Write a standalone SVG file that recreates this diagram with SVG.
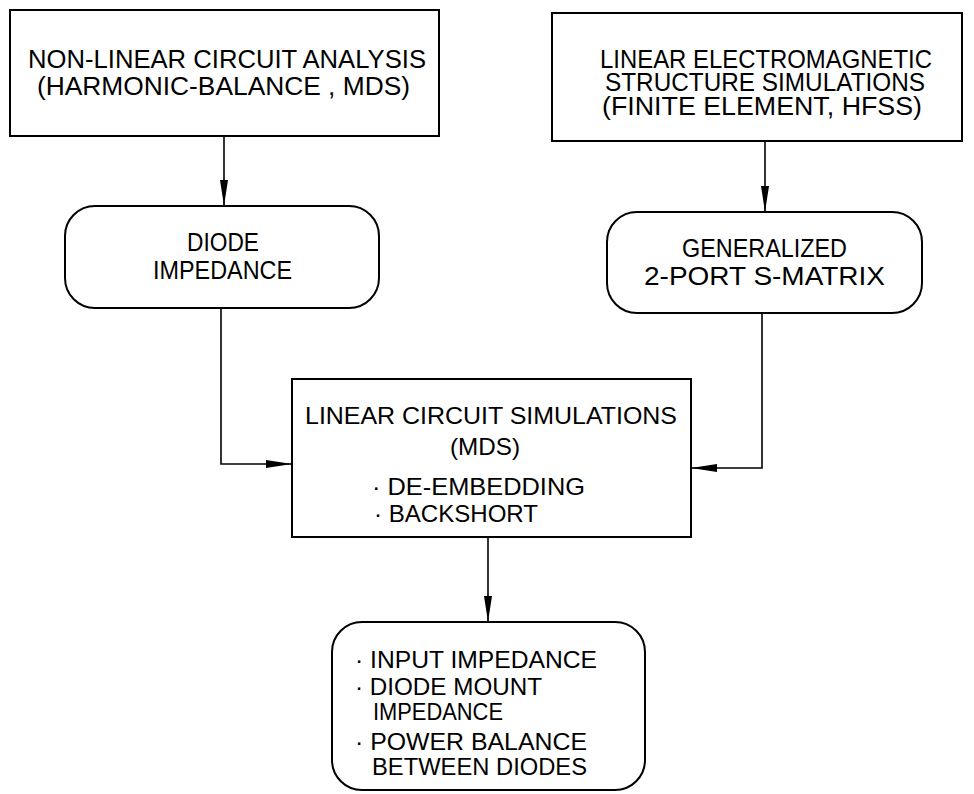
<svg xmlns="http://www.w3.org/2000/svg" width="974" height="794" viewBox="0 0 974 794">
<defs>
<marker id="ah" markerUnits="userSpaceOnUse" markerWidth="26" markerHeight="10" refX="26" refY="5" orient="auto">
<path d="M0,1 L26,5 L0,9 Z" fill="#000"/>
</marker>
<style>
.box{fill:#fff;stroke:#000;stroke-width:2}
.t{font-family:"Liberation Sans",Arial,sans-serif;font-size:26px;fill:#000}
.s{font-size:24px}
.c{fill:none;stroke:#000;stroke-width:1.6}
</style>
</defs>
<rect width="974" height="794" fill="#fff"/>
<g id="nonlinear">
<rect class="box" x="10" y="10" width="429" height="126"/>
<text class="t" x="28" y="68" textLength="398" lengthAdjust="spacingAndGlyphs">NON-LINEAR  CIRCUIT  ANALYSIS</text>
<text class="t" x="37" y="95" textLength="373" lengthAdjust="spacingAndGlyphs">(HARMONIC-BALANCE , MDS)</text>
</g>
<g id="em">
<rect class="box" x="552" y="13" width="410" height="128"/>
<text class="t" x="600" y="68" textLength="332" lengthAdjust="spacingAndGlyphs">LINEAR  ELECTROMAGNETIC</text>
<text class="t" x="605" y="91" textLength="320" lengthAdjust="spacingAndGlyphs">STRUCTURE  SIMULATIONS</text>
<text class="t" x="602" y="115" textLength="320" lengthAdjust="spacingAndGlyphs">(FINITE  ELEMENT,  HFSS)</text>
</g>
<g id="diode">
<rect class="box" x="65" y="206" width="314" height="102" rx="30"/>
<text class="t" x="187" y="251" textLength="72" lengthAdjust="spacingAndGlyphs">DIODE</text>
<text class="t" x="153" y="279" textLength="139" lengthAdjust="spacingAndGlyphs">IMPEDANCE</text>
</g>
<g id="smatrix">
<rect class="box" x="607" y="212" width="315" height="101" rx="30"/>
<text class="t" x="682" y="257" textLength="165" lengthAdjust="spacingAndGlyphs">GENERALIZED</text>
<text class="t" x="644" y="285" textLength="241" lengthAdjust="spacingAndGlyphs">2-PORT  S-MATRIX</text>
</g>
<g id="linear">
<rect class="box" x="292" y="379" width="399" height="158"/>
<text class="t s" x="305" y="424" textLength="372" lengthAdjust="spacingAndGlyphs">LINEAR  CIRCUIT  SIMULATIONS</text>
<text class="t s" x="450" y="455" textLength="70" lengthAdjust="spacingAndGlyphs">(MDS)</text>
<text class="t s" x="372" y="495" textLength="213" lengthAdjust="spacingAndGlyphs">· DE-EMBEDDING</text>
<text class="t s" x="374" y="522" textLength="164" lengthAdjust="spacingAndGlyphs">· BACKSHORT</text>
</g>
<g id="results">
<rect class="box" x="332" y="622" width="313" height="168" rx="30"/>
<text class="t s" x="355" y="668" textLength="242" lengthAdjust="spacingAndGlyphs">· INPUT  IMPEDANCE</text>
<text class="t s" x="355" y="695" textLength="187" lengthAdjust="spacingAndGlyphs">· DIODE  MOUNT</text>
<text class="t s" x="373" y="720" textLength="130" lengthAdjust="spacingAndGlyphs">IMPEDANCE</text>
<text class="t s" x="355" y="750" textLength="232" lengthAdjust="spacingAndGlyphs">· POWER  BALANCE</text>
<text class="t s" x="372" y="775" textLength="215" lengthAdjust="spacingAndGlyphs">BETWEEN  DIODES</text>
</g>
<g id="connectors">
<path class="c" d="M224,136 L224,206" marker-end="url(#ah)"/>
<path class="c" d="M765,141 L765,212" marker-end="url(#ah)"/>
<path class="c" d="M221,308 L221,464 L292,464" marker-end="url(#ah)"/>
<path class="c" d="M762,313 L762,468 L691,468" marker-end="url(#ah)"/>
<path class="c" d="M488,537 L488,622" marker-end="url(#ah)"/>
</g>
</svg>
